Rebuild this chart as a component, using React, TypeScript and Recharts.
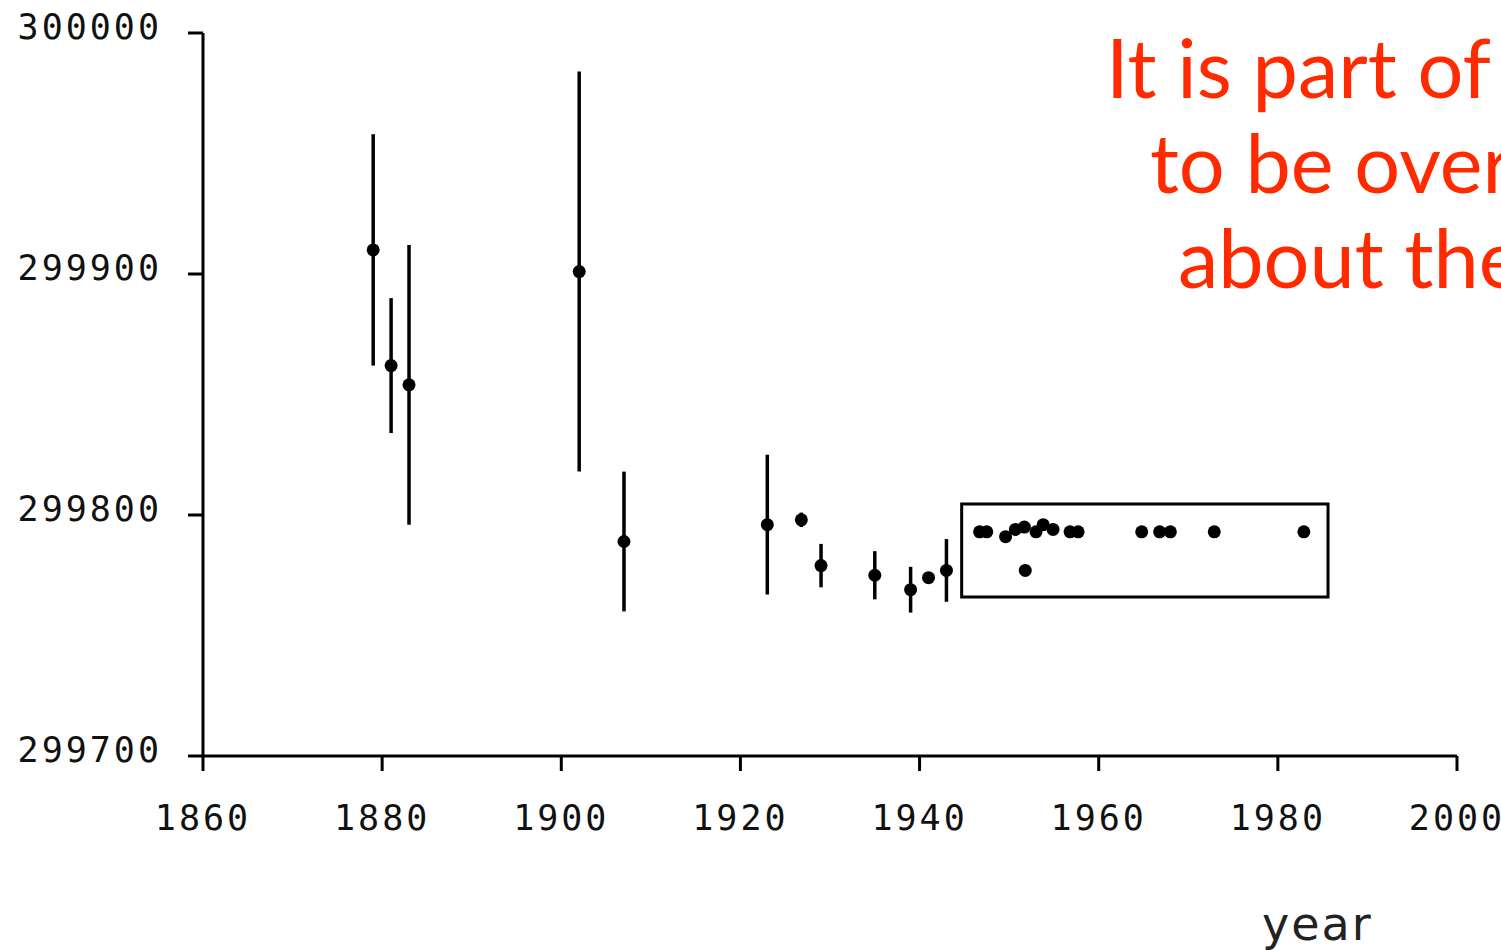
import React from 'react';
import { ScatterChart, Scatter, XAxis, YAxis, ErrorBar, ReferenceArea } from 'recharts';

const years = [
  1879, 1881, 1883, 1902, 1907, 1923, 1926.8, 1929, 1935, 1939, 1941, 1943,
  1946.7, 1947.5, 1949.6, 1950.7, 1951.7, 1951.8, 1953, 1953.8, 1954.9, 1956.8,
  1957.7, 1964.8, 1966.8, 1968, 1972.9, 1982.9,
];
const speeds = [
  299910, 299862, 299854, 299901, 299789, 299796, 299798, 299779, 299775, 299769, 299774, 299777,
  299793, 299793, 299791, 299794, 299795, 299777, 299793, 299796, 299794, 299793,
  299793, 299793, 299793, 299793, 299793, 299793,
];
const errors = [
  48, 28, 58, 83, 29, 29, 3, 9, 10, 9.5, 0, 13,
  0, 0, 0, 0, 0, 0, 0, 0, 0, 0,
  0, 0, 0, 0, 0, 0,
];

const xTicks = [1860, 1880, 1900, 1920, 1940, 1960, 1980, 2000];
const yTicks = [299700, 299800, 299900, 300000];

// box drawn around the post-1945 measurements: [x1, x2, y1, y2]
const boxArea = [1944.7, 1985.6, 299766, 299804.6];

const noteLines = ['It is part of', 'to be over', 'about the'];

const rows = years.map((year, i) => ({ year, speed: speeds[i], err: errors[i] }));

const tickFont = '"DejaVu Sans Mono", monospace';

const YTick = (props: any) => (
  <text
    x={props.x}
    y={props.y}
    dy={6}
    textAnchor="end"
    fontFamily={tickFont}
    fontSize={35}
    letterSpacing={3}
    fill="#111"
  >
    {props.payload.value}
  </text>
);

const XTick = (props: any) => (
  <text
    x={props.x}
    y={props.y}
    dy={59}
    textAnchor="middle"
    fontFamily={tickFont}
    fontSize={35}
    letterSpacing={3}
    fill="#111"
  >
    {props.payload.value}
  </text>
);

const Dot = (props: any) => <circle cx={props.cx} cy={props.cy} r={6.5} fill="#000" />;

export default function App() {
  return (
    <div
      style={{
        position: 'absolute',
        left: 0,
        top: 0,
        width: 1501,
        height: 950,
        overflow: 'hidden',
        background: '#fff',
      }}
    >
      <ScatterChart width={1501} height={950} margin={{ top: 33, right: 44, bottom: 114, left: 0 }}>
        <XAxis
          type="number"
          dataKey="year"
          domain={[1860, 2000]}
          ticks={xTicks}
          allowDataOverflow
          height={80}
          tickSize={15}
          tickMargin={0}
          axisLine={{ stroke: '#000', strokeWidth: 3 }}
          tickLine={{ stroke: '#000', strokeWidth: 3 }}
          tick={<XTick />}
        />
        <YAxis
          type="number"
          dataKey="speed"
          domain={[299700, 300000]}
          ticks={yTicks}
          allowDataOverflow
          width={203}
          tickSize={15}
          tickMargin={26}
          axisLine={{ stroke: '#000', strokeWidth: 3 }}
          tickLine={{ stroke: '#000', strokeWidth: 3 }}
          tick={<YTick />}
        />
        <ReferenceArea
          x1={boxArea[0]}
          x2={boxArea[1]}
          y1={boxArea[2]}
          y2={boxArea[3]}
          fill="none"
          fillOpacity={0}
          stroke="#000"
          strokeWidth={3}
          ifOverflow="visible"
        />
        <Scatter data={rows} shape={<Dot />} isAnimationActive={false}>
          <ErrorBar dataKey="err" direction="y" width={0} stroke="#000" strokeWidth={3.5} isAnimationActive={false} />
        </Scatter>
      </ScatterChart>
      <svg
        width={1501}
        height={950}
        style={{ position: 'absolute', left: 0, top: 0, pointerEvents: 'none' }}
      >
        {noteLines.map((line, i) => (
          <text
            key={line}
            x={[1106, 1150, 1178][i]}
            y={98 + i * 95}
            fontFamily="Lato, 'Open Sans', sans-serif"
            fontSize={81}
            fill="#ff2a00"
          >
            {line}
          </text>
        ))}
        <text x={1262} y={940} fontFamily='"DejaVu Sans", sans-serif' fontSize={46} letterSpacing={2} fill="#222">
          year
        </text>
      </svg>
    </div>
  );
}
